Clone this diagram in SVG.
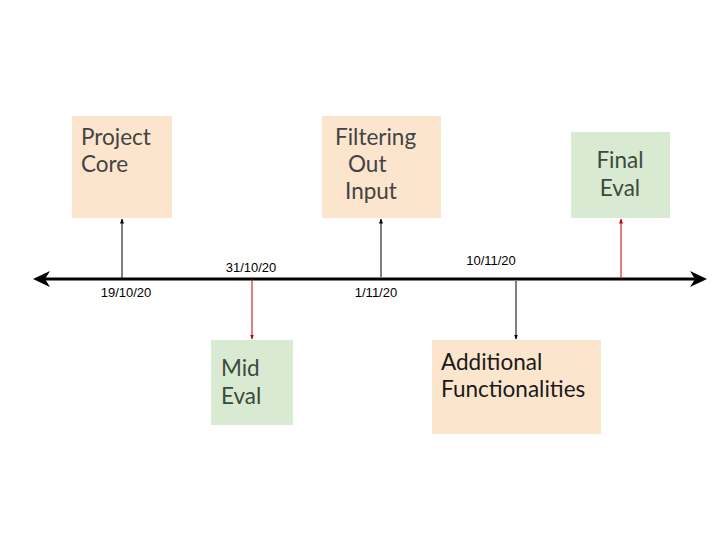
<svg xmlns="http://www.w3.org/2000/svg" width="720" height="540" viewBox="0 0 720 540">
<style>
.orange{fill:#fce5cd}
.green{fill:#d9ead3}
.t{font-family:Lato,"Open Sans","Liberation Sans",sans-serif;font-size:22.5px;fill:#434343}
.tg{fill:#3b4a3b}
.tb{fill:#1a1a1a}
.d{font-family:"Liberation Sans",Arial,sans-serif;font-size:13px;fill:#000}
.c{stroke-width:1;fill:none}
</style>
<defs>
<marker id="ab" viewBox="0 0 10 10" refX="9" refY="5" markerWidth="5" markerHeight="5" orient="auto"><path d="M0,1 L10,5 L0,9 Z" fill="#000"/></marker>
<marker id="ar" viewBox="0 0 10 10" refX="9" refY="5" markerWidth="5" markerHeight="5" orient="auto"><path d="M0,1 L10,5 L0,9 Z" fill="#cc0000"/></marker>
</defs>
<rect width="720" height="540" fill="#fff"/>
<g id="connectors">
<line x1="38" y1="279" x2="703" y2="279" stroke="#000" stroke-width="3"/>
<path d="M33,279 L50,271 L45,279 L50,287 Z" fill="#000"/>
<path d="M707,279 L690,271 L695,279 L690,287 Z" fill="#000"/>
<line class="c" x1="122" y1="279" x2="122" y2="219" stroke="#000" marker-end="url(#ab)"/>
<line class="c" x1="252" y1="279" x2="252" y2="339" stroke="#cc0000" marker-end="url(#ar)"/>
<line class="c" x1="381" y1="277" x2="381" y2="219" stroke="#000" marker-end="url(#ab)"/>
<line class="c" x1="516" y1="281" x2="516" y2="339" stroke="#000" marker-end="url(#ab)"/>
<line class="c" x1="621" y1="279" x2="621" y2="219" stroke="#cc0000" marker-end="url(#ar)"/>
</g>
<g id="dates">
<text class="d" x="126" y="297" text-anchor="middle">19/10/20</text>
<text class="d" x="251" y="272" text-anchor="middle">31/10/20</text>
<text class="d" x="376" y="297" text-anchor="middle">1/11/20</text>
<text class="d" x="491" y="265" text-anchor="middle">10/11/20</text>
</g>
<g id="project-core">
<rect class="orange" x="72" y="116" width="100" height="102"/>
<text class="t" x="81" y="145">Project</text>
<text class="t" x="81" y="172">Core</text>
</g>
<g id="filtering-out-input">
<rect class="orange" x="322" y="116" width="119" height="102"/>
<text class="t" x="335" y="145">Filtering</text>
<text class="t" x="348" y="172">Out</text>
<text class="t" x="345" y="199">Input</text>
</g>
<g id="final-eval">
<rect class="green" x="571" y="132" width="99" height="86"/>
<text class="t tg" x="620" y="168" text-anchor="middle">Final</text>
<text class="t tg" x="620" y="196" text-anchor="middle">Eval</text>
</g>
<g id="mid-eval">
<rect class="green" x="211" y="340" width="82" height="85"/>
<text class="t tg" x="221" y="376">Mid</text>
<text class="t tg" x="221" y="404">Eval</text>
</g>
<g id="additional-functionalities">
<rect class="orange" x="432" y="340" width="169" height="94"/>
<text class="t tb" x="441" y="370">Additional</text>
<text class="t tb" x="441" y="397">Functionalities</text>
</g>
</svg>
